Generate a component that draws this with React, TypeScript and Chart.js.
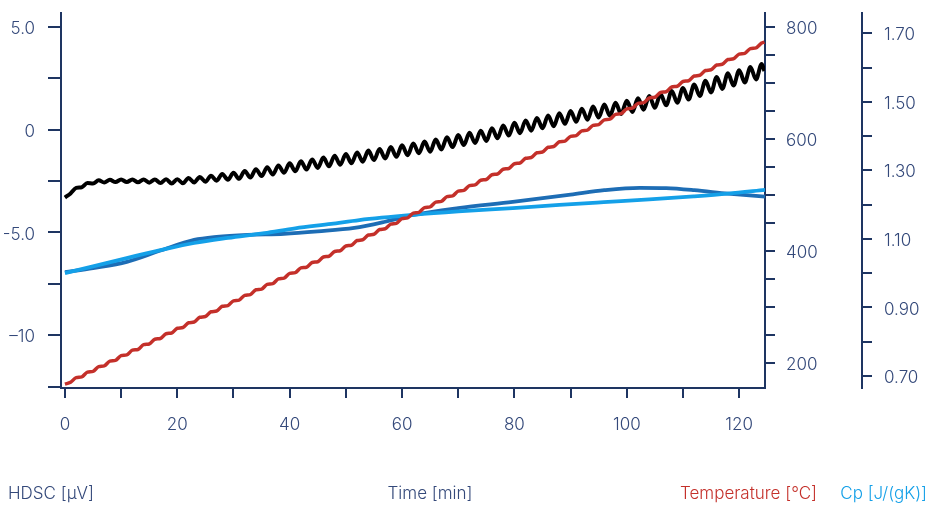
import { useEffect, useRef } from 'react';
import { Chart, registerables } from 'chart.js';

Chart.register(...registerables);

// ---- Data ----
const TIME = [
  0, 1, 2, 3, 4, 5, 6, 7, 8, 9, 10, 11, 12, 13, 14, 15, 16, 17, 18, 19,
  20, 21, 22, 23, 24, 25, 26, 27, 28, 29, 30, 31, 32, 33, 34, 35, 36, 37, 38, 39,
  40, 41, 42, 43, 44, 45, 46, 47, 48, 49, 50, 51, 52, 53, 54, 55, 56, 57, 58, 59,
  60, 61, 62, 63, 64, 65, 66, 67, 68, 69, 70, 71, 72, 73, 74, 75, 76, 77, 78, 79,
  80, 81, 82, 83, 84, 85, 86, 87, 88, 89, 90, 91, 92, 93, 94, 95, 96, 97, 98, 99,
  100, 101, 102, 103, 104, 105, 106, 107, 108, 109, 110, 111, 112, 113, 114, 115, 116, 117, 118, 119,
  120, 121, 122, 123, 124, 124.5,
];

const HDSC = [
  -3.30, -3.10, -2.83, -2.80, -2.60, -2.62, -2.46, -2.57, -2.44, -2.55,
  -2.42, -2.55, -2.42, -2.56, -2.42, -2.58, -2.42, -2.60, -2.41, -2.62,
  -2.41, -2.61, -2.35, -2.57, -2.30, -2.53, -2.24, -2.48, -2.16, -2.44,
  -2.10, -2.39, -2.01, -2.33, -1.92, -2.26, -1.83, -2.18, -1.74, -2.10,
  -1.64, -2.02, -1.54, -1.94, -1.45, -1.86, -1.36, -1.78, -1.27, -1.71,
  -1.19, -1.63, -1.11, -1.56, -1.02, -1.48, -0.94, -1.40, -0.85, -1.32,
  -0.76, -1.24, -0.67, -1.15, -0.58, -1.07, -0.48, -0.96, -0.37, -0.85,
  -0.26, -0.75, -0.15, -0.65, -0.05, -0.55, 0.07, -0.42, 0.20, -0.29,
  0.33, -0.17, 0.45, -0.05, 0.57, 0.07, 0.69, 0.17, 0.80, 0.28,
  0.91, 0.38, 1.02, 0.48, 1.12, 0.59, 1.22, 0.67, 1.31, 0.76,
  1.40, 0.86, 1.52, 0.97, 1.64, 1.06, 1.73, 1.18, 1.88, 1.31,
  2.02, 1.46, 2.20, 1.63, 2.38, 1.81, 2.56, 1.98, 2.74, 2.14,
  2.89, 2.29, 3.04, 2.44, 3.19, 2.85,
];

const TEMPERATURE = [
  163.0, 166.1, 174.6, 175.9, 184.3, 185.6, 194.1, 195.4, 203.9, 205.2,
  213.7, 215.0, 223.4, 224.7, 233.2, 234.5, 243.0, 244.3, 252.8, 254.1,
  262.5, 263.8, 272.3, 273.6, 282.1, 283.4, 291.9, 293.2, 301.6, 302.9,
  311.4, 312.7, 321.2, 322.5, 331.0, 332.2, 340.7, 342.0, 350.5, 351.8,
  360.3, 361.6, 370.1, 371.3, 379.8, 381.1, 389.6, 390.9, 399.4, 400.7,
  409.2, 410.4, 418.9, 420.2, 428.7, 430.0, 438.5, 439.8, 448.2, 449.5,
  458.0, 459.3, 467.8, 469.1, 477.6, 478.9, 487.3, 488.6, 497.1, 498.4,
  506.9, 508.2, 516.7, 518.0, 526.4, 527.7, 536.2, 537.5, 546.0, 547.3,
  555.8, 557.0, 565.5, 566.8, 575.3, 576.6, 585.1, 586.4, 594.9, 596.1,
  604.6, 605.9, 614.4, 615.7, 624.2, 625.5, 634.0, 635.2, 643.7, 645.0,
  653.5, 654.8, 663.3, 664.6, 673.0, 674.3, 682.8, 684.1, 692.6, 693.9,
  702.4, 703.7, 712.1, 713.4, 721.9, 723.2, 731.7, 733.0, 741.5, 742.8,
  751.2, 752.5, 761.0, 762.3, 770.8, 772.6,
];

const CP_LIGHT_TIME = [0, 5, 11, 17, 23, 29, 35.5, 41, 47.4, 52.4, 62, 70, 79.7, 88, 95.9, 104, 111.9, 118, 124.6];
const CP_LIGHT = [1.000, 1.020, 1.044, 1.067, 1.088, 1.103, 1.117, 1.131, 1.144, 1.155, 1.170, 1.180, 1.190, 1.199, 1.207, 1.215, 1.224, 1.232, 1.243];

const CP_DARK_TIME = [0, 5, 11, 17, 23, 27, 32.5, 39, 45, 51.5, 57, 62, 70, 79.7, 90, 96, 102.3, 107, 112, 118, 124.6];
const CP_DARK = [1.003, 1.015, 1.033, 1.066, 1.097, 1.106, 1.112, 1.115, 1.122, 1.132, 1.150, 1.170, 1.190, 1.208, 1.229, 1.242, 1.249, 1.248, 1.242, 1.232, 1.223];

const X_TICKS = [0, 10, 20, 30, 40, 50, 60, 70, 80, 90, 100, 110, 120];
const X_LABELS = ['0', '', '20', '', '40', '', '60', '', '80', '', '100', '', '120'];

const HDSC_TICKS = [-12.5, -10, -7.5, -5, -2.5, 0, 2.5, 5];
const HDSC_LABELS = ['', '–10', '', '-5.0', '', '0', '', '5.0'];

const TEMP_TICKS = [200, 250, 300, 350, 400, 450, 500, 550, 600, 650, 700, 750, 800];
const TEMP_LABELS = ['200', '', '', '', '400', '', '', '', '600', '', '', '', '800'];

const CP_TICKS = [0.7, 0.8, 0.9, 1.0, 1.1, 1.2, 1.3, 1.4, 1.5, 1.6, 1.7];
const CP_LABELS = ['0.70', '', '0.90', '', '1.10', '', '1.30', '', '1.50', '', '1.70'];

const TITLE_HDSC = 'HDSC [µV]';
const TITLE_TIME = 'Time [min]';
const TITLE_TEMP = 'Temperature [°C]';
const TITLE_CP = 'Cp [J/(gK)]';

// ---- Styles ----
const AXIS = '#1e3562';
const TEXT = '#34497a';
const RED = '#c4302a';
const DARK_BLUE = '#1d6db5';
const LIGHT_BLUE = '#14a0e8';
const FONT_FAMILY = 'Inter, "Open Sans", sans-serif';
const FONT_SIZE = 17;

const pts = (xs: number[], ys: number[]) => xs.map((x, i) => ({ x, y: ys[i] }));

const fixTicks = (values: number[]) => (axis: any) => {
  axis.ticks = values.map((v) => ({ value: v }));
};
const labelFrom = (labels: string[]) => (_v: any, i: number) => labels[i];
const fitWidth = (w: number) => (s: any) => {
  s.width = w;
  s.paddingTop = 0;
  s.paddingBottom = 0;
};

export default function App() {
  const ref = useRef<HTMLCanvasElement | null>(null);

  useEffect(() => {
    document.body.style.margin = '0';
    const canvas = ref.current;
    if (!canvas) return;

    const titlesPlugin = {
      id: 'bottomTitles',
      afterDraw(chart: any) {
        const ctx = chart.ctx;
        ctx.save();
        ctx.font = `300 ${FONT_SIZE}px ${FONT_FAMILY}`;
        ctx.textBaseline = 'middle';
        const y = 494;
        ctx.fillStyle = TEXT;
        ctx.textAlign = 'left';
        ctx.fillText(TITLE_HDSC, 8, y);
        ctx.textAlign = 'center';
        ctx.fillText(TITLE_TIME, 430, y);
        ctx.fillStyle = RED;
        ctx.textAlign = 'right';
        ctx.fillText(TITLE_TEMP, 817, y);
        ctx.fillStyle = LIGHT_BLUE;
        ctx.fillText(TITLE_CP, 927, y);
        ctx.restore();
      },
    };

    const tickFont = { family: FONT_FAMILY, size: FONT_SIZE, weight: 300 as any };

    const chart = new Chart(canvas, {
      type: 'line',
      data: {
        datasets: [
          {
            label: 'HDSC',
            data: pts(TIME, HDSC),
            yAxisID: 'y',
            borderColor: '#000000',
            borderWidth: 4,
            pointRadius: 0,
            cubicInterpolationMode: 'monotone',
            order: 1,
          },
          {
            label: 'Temperature',
            data: pts(TIME, TEMPERATURE),
            yAxisID: 'yT',
            borderColor: RED,
            borderWidth: 3.5,
            pointRadius: 0,
            cubicInterpolationMode: 'monotone',
            order: 0,
          },
          {
            label: 'Cp light',
            data: pts(CP_LIGHT_TIME, CP_LIGHT),
            yAxisID: 'yCp',
            borderColor: LIGHT_BLUE,
            borderWidth: 3.8,
            pointRadius: 0,
            cubicInterpolationMode: 'monotone',
            order: 2,
          },
          {
            label: 'Cp dark',
            data: pts(CP_DARK_TIME, CP_DARK),
            yAxisID: 'yCp',
            borderColor: DARK_BLUE,
            borderWidth: 3.8,
            pointRadius: 0,
            cubicInterpolationMode: 'monotone',
            order: 3,
          },
        ],
      },
      options: {
        animation: false,
        responsive: false,
        devicePixelRatio: 1,
        layout: { padding: { top: 13, left: 0, right: 0, bottom: 0 } },
        plugins: { legend: { display: false }, tooltip: { enabled: false } },
        scales: {
          x: {
            type: 'linear',
            position: 'bottom',
            min: -0.7,
            max: 124.6,
            afterBuildTicks: fixTicks(X_TICKS),
            afterFit: (s: any) => { s.height = 119; s.paddingLeft = 0; s.paddingRight = 0; },
            border: { display: true, color: AXIS, width: 2 },
            grid: { drawOnChartArea: false, drawTicks: true, tickLength: 10, color: AXIS, lineWidth: 2 },
            ticks: { autoSkip: false, maxRotation: 0, padding: 17, color: TEXT, font: tickFont, callback: labelFrom(X_LABELS) },
          },
          y: {
            type: 'linear',
            position: 'left',
            min: -12.56,
            max: 5.67,
            afterBuildTicks: fixTicks(HDSC_TICKS),
            afterFit: fitWidth(61),
            border: { display: true, color: AXIS, width: 2 },
            grid: { drawOnChartArea: false, drawTicks: true, tickLength: 13, color: AXIS, lineWidth: 2 },
            ticks: { autoSkip: false, padding: 13, labelOffset: 2, color: TEXT, font: tickFont, callback: labelFrom(HDSC_LABELS) },
          },
          yT: {
            type: 'linear',
            position: 'right',
            weight: 0,
            min: 156,
            max: 824.4,
            afterBuildTicks: fixTicks(TEMP_TICKS),
            afterFit: fitWidth(97),
            border: { display: true, color: AXIS, width: 2 },
            grid: { drawOnChartArea: false, drawTicks: true, tickLength: 10, color: AXIS, lineWidth: 2 },
            ticks: { autoSkip: false, padding: 11, labelOffset: 2, color: TEXT, font: tickFont, callback: labelFrom(TEMP_LABELS) },
          },
          yCp: {
            type: 'linear',
            position: 'right',
            weight: 1,
            min: 0.665,
            max: 1.759,
            afterBuildTicks: fixTicks(CP_TICKS),
            afterFit: fitWidth(66),
            border: { display: true, color: AXIS, width: 2 },
            grid: { drawOnChartArea: false, drawTicks: true, tickLength: 10, color: AXIS, lineWidth: 2 },
            ticks: { autoSkip: false, padding: 12, labelOffset: 2, color: TEXT, font: tickFont, callback: labelFrom(CP_LABELS) },
          },
        },
      } as any,
      plugins: [titlesPlugin],
    });

    return () => chart.destroy();
  }, []);

  return <canvas ref={ref} width={928} height={507} style={{ display: 'block' }} />;
}
